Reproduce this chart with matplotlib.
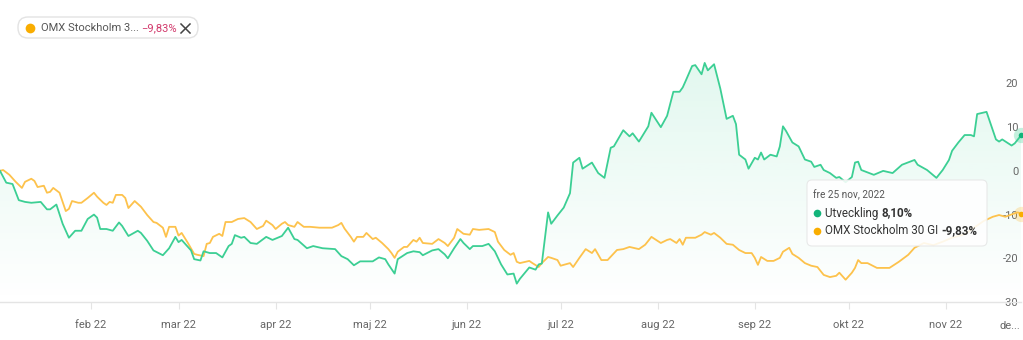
import datetime as dt
import matplotlib.pyplot as plt
import matplotlib.transforms as mtransforms
from matplotlib.patches import FancyBboxPatch
from matplotlib.lines import Line2D
from matplotlib.colors import to_rgb
import numpy as np

# x values are day numbers counted from 1 jan 2022
utv_days = [2, 4, 6, 8, 10, 12, 15, 17, 18, 20, 22, 24, 26, 28, 30, 32, 33, 34, 36, 38,
            40, 41, 43, 46, 47, 49, 51, 54, 56, 58, 59, 60, 63, 64, 66, 67, 69, 71, 73, 75,
            76, 77, 79, 80, 82, 84, 87, 89, 92, 94, 96, 97, 100, 102, 105, 109, 111, 113, 115, 117,
            121, 123, 125, 126, 128, 129, 132, 134, 136, 137, 140, 142, 144, 145, 147, 149, 150, 152, 153, 156,
            158, 160, 162, 164, 166, 167, 168, 171, 173, 174, 175, 177, 178, 180, 182, 184, 185, 187, 188, 191,
            193, 195, 197, 198, 201, 203, 204, 206, 209, 210, 213, 215, 217, 219, 220, 221, 223, 224, 226, 227,
            228, 230, 232, 234, 236, 237, 238, 240, 241, 243, 244, 245, 246, 248, 250, 251, 252, 253, 255, 257,
            259, 261, 262, 264, 265, 267, 269, 270, 272, 274, 275, 276, 277, 281, 284, 287, 290, 294, 295, 298,
            301, 303, 305, 306, 308, 310, 312, 313, 314, 317, 318, 320, 321, 322, 325, 326, 327, 328]
utv_vals = [0.0, -2.7, -3.0, -6.7, -7.1, -7.3, -7.1, -8.8, -8.8, -7.7, -12.1, -15.3, -13.7, -13.7, -11.0, -10.0, -10.7, -13.3, -13.3, -13.7,
            -11.8, -12.6, -14.9, -13.7, -14.2, -16.0, -18.2, -19.3, -17.7, -15.1, -16.3, -15.8, -18.2, -20.2, -20.5, -18.4, -18.8, -18.8, -19.8, -17.2,
            -16.7, -14.7, -15.3, -15.1, -16.5, -16.7, -15.1, -15.8, -14.9, -13.0, -15.6, -15.8, -17.7, -17.2, -17.7, -17.9, -19.5, -20.2, -21.6, -20.7,
            -20.7, -19.8, -20.2, -21.4, -23.5, -20.2, -18.8, -18.4, -18.6, -19.3, -18.2, -17.9, -19.1, -20.0, -17.7, -15.6, -16.5, -17.9, -17.2, -17.2,
            -16.7, -18.4, -21.4, -23.7, -23.5, -25.8, -24.7, -22.1, -22.6, -21.4, -21.2, -9.5, -12.1, -10.2, -8.4, -5.1, 1.9, 3.0, 0.5, 1.9,
            -0.5, -1.6, 5.3, 5.6, 9.3, 7.9, 8.6, 6.7, 10.2, 13.3, 10.0, 12.6, 18.1, 18.1, 19.1, 20.7, 24.0, 24.2, 22.1, 24.7,
            23.0, 24.4, 18.8, 11.9, 12.6, 10.7, 3.7, 2.6, 0.5, 3.0, 2.6, 4.2, 2.6, 3.7, 3.3, 5.6, 10.2, 9.1, 6.5, 5.6,
            2.6, 2.1, 0.9, 1.4, 0.2, -0.5, -1.6, -1.4, -2.6, -1.4, 1.9, 2.1, 0.2, -0.9, 0.0, -0.5, 1.4, 2.5, 1.4, 0.2,
            -1.6, 0.2, 2.5, 4.6, 6.5, 8.2, 8.2, 7.9, 13.0, 13.5, 11.4, 7.2, 6.7, 7.2, 5.8, 6.3, 7.2, 8.1]

omx_days = [2, 3, 5, 7, 9, 10, 12, 13, 14, 16, 17, 18, 19, 21, 23, 24, 25, 27, 28, 30,
            32, 33, 35, 36, 37, 38, 39, 41, 42, 43, 45, 47, 49, 51, 52, 54, 55, 56, 58, 59,
            60, 62, 64, 65, 67, 68, 69, 70, 72, 73, 74, 76, 78, 80, 82, 84, 86, 87, 89, 90,
            92, 93, 94, 96, 97, 99, 101, 104, 108, 110, 111, 112, 114, 115, 116, 118, 119, 121, 122, 124,
            126, 127, 128, 129, 131, 132, 134, 135, 136, 137, 140, 142, 144, 145, 147, 148, 150, 152, 153, 155,
            158, 160, 161, 163, 165, 166, 167, 168, 171, 172, 174, 175, 177, 178, 180, 181, 184, 185, 187, 189,
            191, 192, 194, 196, 199, 201, 203, 206, 208, 210, 213, 215, 216, 218, 219, 220, 221, 224, 226, 227,
            229, 230, 232, 234, 236, 238, 240, 242, 243, 244, 245, 247, 249, 251, 252, 254, 255, 257, 259, 261,
            263, 265, 267, 269, 270, 272, 274, 275, 276, 277, 279, 282, 286, 289, 292, 294, 297, 300, 303, 306,
            310, 313, 316, 319, 321, 323, 326, 327, 328]
omx_vals = [0.0, 0.2, -0.9, -2.5, -3.9, -2.5, -1.8, -2.3, -3.7, -3.4, -5.0, -4.8, -3.9, -5.0, -9.2, -8.7, -6.9, -7.3, -7.3, -6.2,
            -5.0, -5.9, -7.3, -7.8, -7.1, -7.3, -5.5, -5.5, -6.2, -8.5, -6.9, -8.2, -10.1, -11.7, -11.9, -13.0, -15.1, -12.8, -12.8, -14.8,
            -14.2, -16.5, -19.0, -19.2, -19.5, -16.7, -16.5, -15.1, -14.4, -14.9, -11.7, -11.7, -11.0, -10.8, -11.7, -13.3, -12.6, -11.4, -12.4, -13.3,
            -12.1, -11.7, -12.4, -12.8, -11.7, -12.8, -12.8, -13.0, -13.0, -12.4, -11.9, -13.2, -15.1, -16.2, -15.1, -15.1, -14.2, -15.6, -15.3, -16.5,
            -17.9, -18.8, -19.9, -18.5, -17.4, -17.4, -15.8, -16.2, -15.3, -16.5, -16.7, -15.6, -16.5, -17.2, -15.3, -13.3, -14.4, -14.6, -13.3, -13.5,
            -13.3, -14.0, -16.2, -18.1, -19.2, -18.8, -20.8, -21.1, -20.6, -21.1, -22.0, -21.1, -19.7, -19.9, -20.4, -21.7, -21.1, -22.0, -19.9, -17.9,
            -18.8, -17.9, -20.4, -20.4, -18.1, -17.9, -17.4, -17.9, -16.9, -15.1, -16.5, -15.8, -15.6, -16.5, -15.6, -16.9, -15.3, -15.3, -14.6, -14.0,
            -14.6, -14.2, -15.3, -16.7, -16.9, -18.1, -18.8, -18.8, -19.9, -21.5, -19.7, -20.6, -20.6, -19.9, -18.5, -17.6, -19.0, -19.9, -21.1, -21.7,
            -22.0, -23.8, -24.3, -24.0, -23.3, -24.9, -23.3, -22.2, -20.4, -21.1, -21.1, -22.2, -22.2, -20.8, -19.2, -17.6, -16.5, -17.0, -16.2, -15.3,
            -14.5, -13.0, -11.5, -10.5, -10.1, -10.5, -9.7, -9.5, -9.83]

month_labels = ["feb 22", "mar 22", "apr 22", "maj 22", "jun 22",
                "jul 22", "aug 22", "sep 22", "okt 22", "nov 22"]
month_days = [(dt.date(2022, m, 1) - dt.date(2022, 1, 1)).days for m in range(2, 12)]
y_ticks = [20, 10, 0, -10, -20, -30]

GREEN = "#3ccf94"
GREEN_DOT = "#12b47a"
ORANGE = "#fdc24c"
ORANGE_DOT = "#f9ad00"

plt.rcParams["font.family"] = ["Roboto", "DejaVu Sans"]
plt.rcParams["axes.unicode_minus"] = False

W, H = 1023, 340
fig = plt.figure(figsize=(W / 100, H / 100), dpi=100)
# pixel coords measured from the top-left corner
T = mtransforms.Affine2D().scale(1, -1).translate(0, H)

ax = fig.add_axes([0, 1 - 302 / H, 1021 / W, (302 - 45) / H])
x0, x1, y0, y1 = 2, 328, -30, 28.8

# gradient fill under the green line
grad = np.linspace(0, 1, 256).reshape(-1, 1)
rgba = np.zeros((256, 1, 4))
rgba[..., :3] = to_rgb(GREEN)
rgba[..., 3] = 0.16 * grad
img = ax.imshow(rgba, extent=[x0, x1, y0, y1], origin="lower", aspect="auto", zorder=1)
poly = ax.fill_between(utv_days, utv_vals, y0, color="none", lw=0)
img.set_clip_path(poly.get_paths()[0], transform=ax.transData)

ax.plot(omx_days, omx_vals, color=ORANGE, lw=1.3, zorder=3, solid_joinstyle="round")
ax.plot(utv_days, utv_vals, color=GREEN, lw=1.3, zorder=4, solid_joinstyle="round")

# end markers with halo
ax.plot(utv_days[-1], utv_vals[-1], "o", ms=11, color=GREEN, alpha=0.3, mew=0, zorder=5, clip_on=False)
ax.plot(utv_days[-1], utv_vals[-1], "o", ms=4, color=GREEN_DOT, mew=0, zorder=6, clip_on=False)
ax.plot(omx_days[-1], omx_vals[-1], "o", ms=11, color=ORANGE, alpha=0.3, mew=0, zorder=5, clip_on=False)
ax.plot(omx_days[-1], omx_vals[-1], "o", ms=4, color=ORANGE_DOT, mew=0, zorder=6, clip_on=False)

ax.set_xlim(x0, x1)
ax.set_ylim(y0, y1)
for s in ["top", "left", "right"]:
    ax.spines[s].set_visible(False)
ax.spines["bottom"].set_color("#e4e4e4")
ax.spines["bottom"].set_linewidth(1)
ax.set_facecolor("none")

ax.set_xticks(month_days, month_labels)
ax.tick_params(axis="x", length=5, color="#e4e4e4", labelsize=8, labelcolor="#666666", pad=8)

ax.set_yticks(y_ticks, [str(v) for v in y_ticks])
ax.yaxis.tick_right()
ax.tick_params(axis="y", length=0, pad=-2, labelsize=8, labelcolor="#666666")
for t in ax.get_yticklabels():
    t.set_horizontalalignment("right")

fig.text(1010, 326, "de...", transform=T, ha="center", va="center", fontsize=8, color="#666666")

# legend chip, top left
fig.add_artist(FancyBboxPatch((18, 17), 180, 21, boxstyle="round,pad=0,rounding_size=10",
                              transform=T, fc="white", ec="#e3e3e3", lw=1))
fig.add_artist(Line2D([30], [27.5], transform=T, marker="o", ms=7, color=ORANGE_DOT, mew=0))
fig.text(41, 28, "OMX Stockholm 3...", transform=T, va="center", fontsize=8, color="#555555")
fig.text(141, 28, "\u22129,83%", transform=T, va="center", fontsize=8, color="#d23a6c")
fig.add_artist(Line2D([181, 190], [24, 33], transform=T, color="#444444", lw=1.1))
fig.add_artist(Line2D([181, 190], [33, 24], transform=T, color="#444444", lw=1.1))

# tooltip
fig.add_artist(FancyBboxPatch((807, 180), 180, 66, boxstyle="round,pad=0,rounding_size=5",
                              transform=T, fc="white", ec="#e6e6e6", lw=0.8, alpha=0.88, zorder=10))
fig.text(813, 195, "fre 25 nov, 2022", transform=T, va="center", fontsize=7.2, color="#555555", zorder=11)
fig.add_artist(Line2D([817], [213], transform=T, marker="o", ms=5.5, color=GREEN_DOT, mew=0, zorder=11))
fig.add_artist(Line2D([817], [230.5], transform=T, marker="o", ms=5.5, color=ORANGE_DOT, mew=0, zorder=11))

rows = [(213, "Utveckling ", "8,10%"), (230.5, "OMX Stockholm 30 GI ", "-9,83%")]
fig.canvas.draw()
renderer = fig.canvas.get_renderer()
for yy, name, val in rows:
    t = fig.text(825, yy, name, transform=T, va="center", fontsize=8.4, color="#333333", zorder=11)
    bb = t.get_window_extent(renderer)
    fig.text(bb.x1, H - yy, val, transform=None, va="center", fontsize=8.4,
             color="#333333", fontweight="bold", zorder=11)

fig.savefig("out.png", dpi=100)
